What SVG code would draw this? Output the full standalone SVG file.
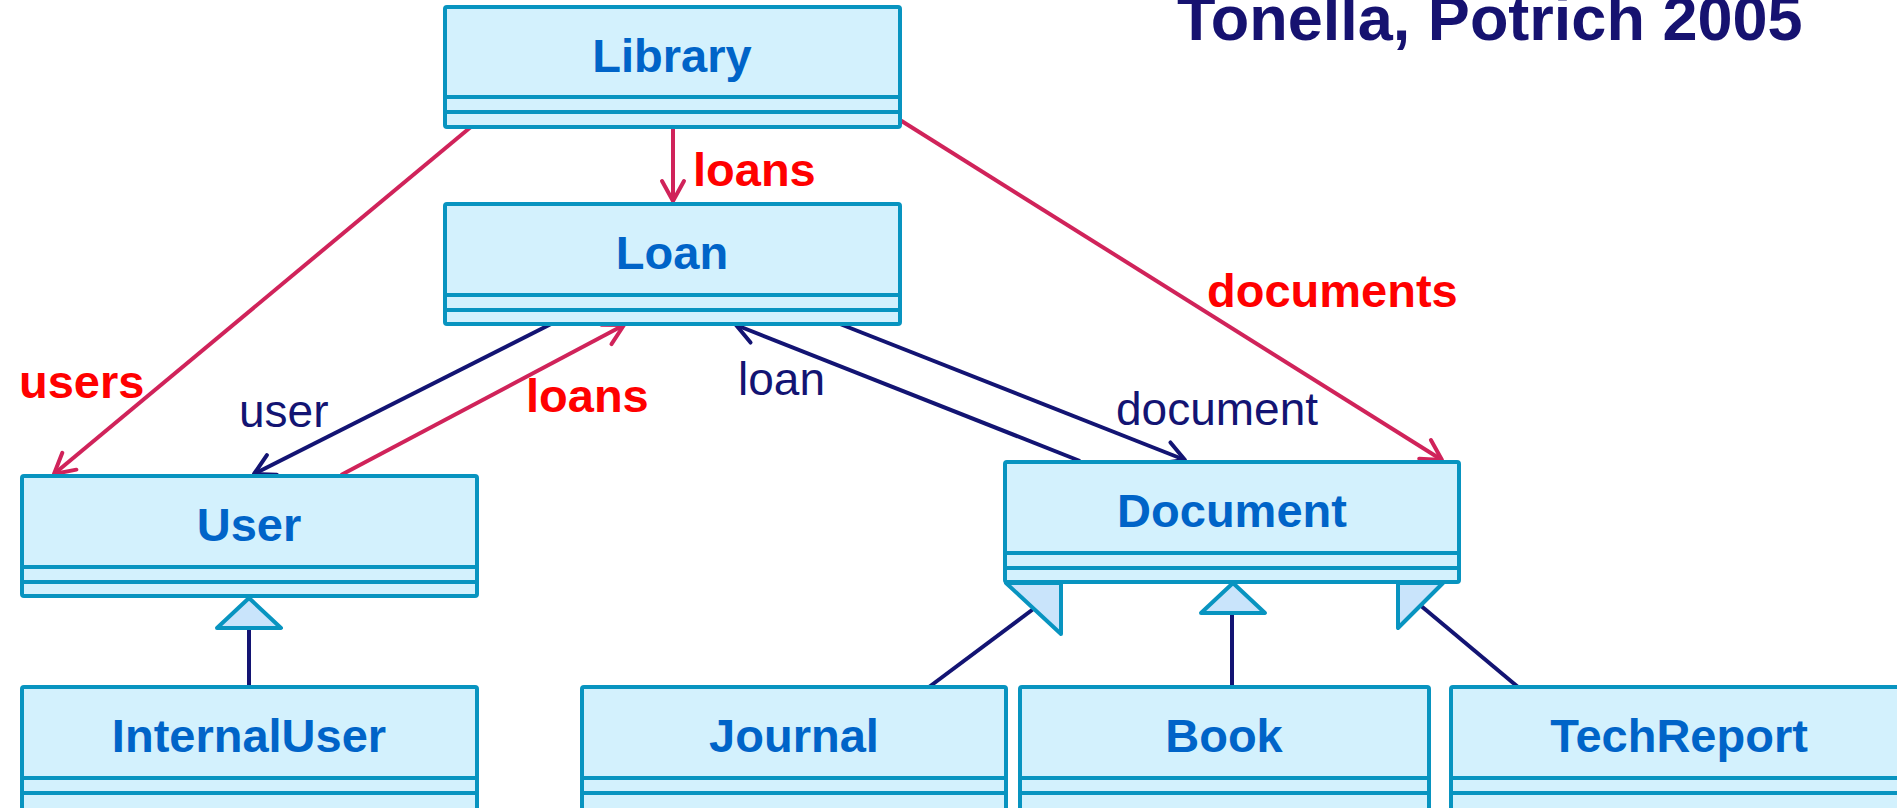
<svg xmlns="http://www.w3.org/2000/svg" width="1897" height="808" viewBox="0 0 1897 808">
  <style>
    .box { fill: #d3f1fd; stroke: #0894c0; stroke-width: 4; stroke-linejoin: round; }
    .sep { stroke: #0894c0; stroke-width: 4; }
    .name { font-family: "Liberation Sans", Arial, sans-serif; font-weight: bold; font-size: 47px; fill: #0064c8; text-anchor: middle; }
    .assoc { fill: none; stroke: #d0235a; stroke-width: 4; }
    .nav { fill: none; stroke: #131473; stroke-width: 4; }
    .gen { fill: #c9e4fb; stroke: #0894c0; stroke-width: 4; stroke-linejoin: round; }
    .lbl-red { font-family: "Liberation Sans", Arial, sans-serif; font-weight: bold; font-size: 47px; fill: #ff0000; }
    .lbl-nav { font-family: "Liberation Sans", Arial, sans-serif; font-size: 46px; fill: #131473; }
    .title { font-family: "Liberation Sans", Arial, sans-serif; font-weight: bold; font-size: 63px; fill: #161270; }
  </style>
  <defs>
    <marker id="arrRed" markerUnits="userSpaceOnUse" markerWidth="32" markerHeight="32" refX="0" refY="0" viewBox="-24 -16 28 32" orient="auto">
      <path d="M -20 -11 L 0 0 L -20 11" fill="none" stroke="#d0235a" stroke-width="4" stroke-linecap="round" stroke-linejoin="round"/>
    </marker>
    <marker id="arrNav" markerUnits="userSpaceOnUse" markerWidth="32" markerHeight="32" refX="0" refY="0" viewBox="-24 -16 28 32" orient="auto">
      <path d="M -20 -11 L 0 0 L -20 11" fill="none" stroke="#131473" stroke-width="4" stroke-linecap="round" stroke-linejoin="round"/>
    </marker>
  </defs>

  <!-- heading, partly above the top edge -->
  <text class="title" x="1177" y="40">Tonella, Potrich 2005</text>

  <!-- associations and generalizations -->
  <g id="connectors">
    <line class="assoc" x1="472" y1="126" x2="54" y2="474" marker-end="url(#arrRed)"/>
    <line class="assoc" x1="673" y1="126" x2="673" y2="201" marker-end="url(#arrRed)"/>
    <line class="assoc" x1="900" y1="120" x2="1442" y2="460" marker-end="url(#arrRed)"/>
    <line class="nav" x1="551" y1="324" x2="254" y2="474" marker-end="url(#arrNav)"/>
    <line class="assoc" x1="341" y1="475" x2="624" y2="325" marker-end="url(#arrRed)"/>
    <line class="nav" x1="1080" y1="461" x2="736" y2="325" marker-end="url(#arrNav)"/>
    <line class="nav" x1="840" y1="324" x2="1185" y2="460" marker-end="url(#arrNav)"/>

    <!-- InternalUser is-a User -->
    <line class="nav" x1="249" y1="687" x2="249" y2="628"/>
    <polygon class="gen" points="249,598 281,628 217,628"/>
    <!-- Book is-a Document -->
    <line class="nav" x1="1232" y1="687" x2="1232" y2="613"/>
    <polygon class="gen" points="1233,583 1265,613 1201,613"/>
    <!-- Journal is-a Document -->
    <line class="nav" x1="929" y1="687" x2="1036" y2="607"/>
    <line class="nav" x1="1057" y1="586" x2="1064" y2="580"/>
    <polygon class="gen" points="1061,583 1061,634 1006,583"/>
    <!-- TechReport is-a Document -->
    <line class="nav" x1="1518" y1="687" x2="1420" y2="605"/>
    <polygon class="gen" points="1398,583 1443,583 1398,628"/>
  </g>

  <text class="lbl-red" x="693" y="186">loans</text>
  <text class="lbl-red" x="19" y="398">users</text>
  <text class="lbl-nav" x="239" y="427">user</text>
  <text class="lbl-red" x="526" y="412">loans</text>
  <text class="lbl-nav" x="738" y="395">loan</text>
  <text class="lbl-nav" x="1116" y="425">document</text>
  <text class="lbl-red" x="1207" y="307">documents</text>

  <g id="library">
    <rect class="box" x="445" y="7" width="455" height="120" rx="2"/>
    <line class="sep" x1="445" y1="97" x2="900" y2="97"/>
    <line class="sep" x1="445" y1="112" x2="900" y2="112"/>
    <text class="name" x="672" y="72">Library</text>
  </g>
  <g id="loan">
    <rect class="box" x="445" y="204" width="455" height="120" rx="2"/>
    <line class="sep" x1="445" y1="295" x2="900" y2="295"/>
    <line class="sep" x1="445" y1="310" x2="900" y2="310"/>
    <text class="name" x="672" y="269">Loan</text>
  </g>
  <g id="user">
    <rect class="box" x="22" y="476" width="455" height="120" rx="2"/>
    <line class="sep" x1="22" y1="567" x2="477" y2="567"/>
    <line class="sep" x1="22" y1="582" x2="477" y2="582"/>
    <text class="name" x="249" y="541">User</text>
  </g>
  <g id="document">
    <rect class="box" x="1005" y="462" width="454" height="120" rx="2"/>
    <line class="sep" x1="1005" y1="553" x2="1459" y2="553"/>
    <line class="sep" x1="1005" y1="568" x2="1459" y2="568"/>
    <text class="name" x="1232" y="527">Document</text>
  </g>
  <g id="internaluser">
    <rect class="box" x="22" y="687" width="455" height="140" rx="2"/>
    <line class="sep" x1="22" y1="778" x2="477" y2="778"/>
    <line class="sep" x1="22" y1="793" x2="477" y2="793"/>
    <text class="name" x="249" y="752">InternalUser</text>
  </g>
  <g id="journal">
    <rect class="box" x="582" y="687" width="424" height="140" rx="2"/>
    <line class="sep" x1="582" y1="778" x2="1006" y2="778"/>
    <line class="sep" x1="582" y1="793" x2="1006" y2="793"/>
    <text class="name" x="794" y="752">Journal</text>
  </g>
  <g id="book">
    <rect class="box" x="1020" y="687" width="409" height="140" rx="2"/>
    <line class="sep" x1="1020" y1="778" x2="1429" y2="778"/>
    <line class="sep" x1="1020" y1="793" x2="1429" y2="793"/>
    <text class="name" x="1224" y="752">Book</text>
  </g>
  <g id="techreport">
    <rect class="box" x="1451" y="687" width="460" height="140" rx="2"/>
    <line class="sep" x1="1451" y1="778" x2="1911" y2="778"/>
    <line class="sep" x1="1451" y1="793" x2="1911" y2="793"/>
    <text class="name" x="1679" y="752">TechReport</text>
  </g>
</svg>
